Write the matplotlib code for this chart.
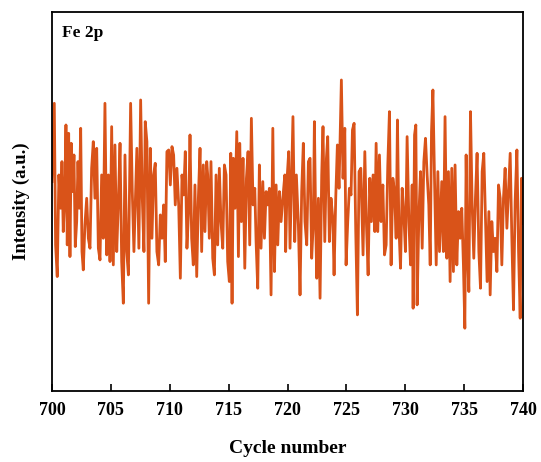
import matplotlib.pyplot as plt

# Fe 2p intensity vs cycle number
cycles = [
    700.00, 700.20, 700.31, 700.45, 700.59, 700.74, 700.85, 700.96, 701.08, 701.19,
    701.30, 701.42, 701.53, 701.64, 701.76, 701.87, 701.98, 702.10, 702.21, 702.32,
    702.44, 702.55, 702.66, 702.80, 702.95, 703.09, 703.23, 703.37, 703.51, 703.65,
    703.80, 703.94, 704.08, 704.22, 704.36, 704.50, 704.65, 704.79, 704.93, 705.07,
    705.21, 705.35, 705.50, 705.64, 705.78, 705.92, 706.06, 706.20, 706.35, 706.49,
    706.68, 706.82, 706.96, 707.07, 707.21, 707.38, 707.53, 707.67, 707.81, 707.92,
    708.06, 708.21, 708.35, 708.49, 708.63, 708.77, 708.91, 709.06, 709.20, 709.34,
    709.48, 709.62, 709.76, 709.91, 710.05, 710.19, 710.33, 710.47, 710.61, 710.76,
    710.90, 711.04, 711.18, 711.32, 711.46, 711.61, 711.72, 711.86, 712.00, 712.14,
    712.29, 712.43, 712.57, 712.71, 712.85, 712.99, 713.14,
    713.22, 713.36, 713.50, 713.65, 713.79, 713.93, 714.07, 714.21, 714.35, 714.50,
    714.64, 714.78, 714.92, 715.06, 715.18, 715.29, 715.40, 715.54, 715.69, 715.83,
    715.94, 716.08, 716.22, 716.37, 716.51, 716.65, 716.79, 716.93, 717.07, 717.22,
    717.33, 717.47, 717.61, 717.75, 717.90, 718.04, 718.18, 718.32, 718.46, 718.60,
    718.75, 718.89, 719.03, 719.17, 719.31, 719.45, 719.60, 719.77,
    719.84, 719.98, 720.10, 720.21, 720.35, 720.46, 720.61, 720.75, 720.92, 721.06,
    721.20, 721.34, 721.48, 721.63, 721.77, 721.91, 722.05, 722.19, 722.28, 722.39,
    722.48, 722.62, 722.76, 722.90, 723.01, 723.16, 723.30, 723.41, 723.55, 723.69,
    723.84, 723.95, 724.09, 724.23, 724.37, 724.57, 724.71, 724.86, 724.97, 725.11,
    725.25, 725.39, 725.51, 725.65, 725.79, 725.93, 726.07, 726.22,
    726.41, 726.56, 726.70, 726.84, 726.98, 727.12, 727.26, 727.41, 727.52, 727.66,
    727.80, 727.94, 728.09, 728.23, 728.37, 728.51, 728.65, 728.79, 728.94, 729.08,
    729.22, 729.33, 729.45, 729.59, 729.73, 729.87, 730.01, 730.15, 730.30, 730.44,
    730.58, 730.66, 730.78, 730.89, 731.00, 731.15, 731.29, 731.43, 731.57, 731.71,
    731.85, 731.99, 732.11, 732.22, 732.34, 732.48, 732.62, 732.76, 732.90, 733.04,
    733.09, 733.23, 733.37, 733.52, 733.66, 733.80, 733.94, 734.08, 734.22, 734.37,
    734.51, 734.65, 734.79, 734.93, 735.05, 735.16, 735.27, 735.39, 735.53, 735.67,
    735.81, 735.95, 736.09, 736.24, 736.38, 736.52, 736.66, 736.80, 736.94, 737.09,
    737.20, 737.34, 737.48, 737.62, 737.77, 737.91, 738.05, 738.19, 738.33, 738.47,
    738.62, 738.76, 738.90, 739.04, 739.18, 739.32, 739.47, 739.61, 739.75, 739.86,
    740.00,
]
intensity = [
    47.5, 71, 28.5, 19, 49.5, 39.5, 53.5, 32.5, 42.5, 64.5,
    28.5, 62, 25, 59, 44.5, 55.5, 28, 35.5, 53.5, 39.5,
    63.5, 26.5, 21, 34.5, 42.5, 30.5, 27.5, 51.5, 59.5, 42.5,
    57.5, 27.5, 24, 49.5, 30.5, 71, 25.5, 49.5, 23.5, 64,
    22.5, 58.5, 26.5, 41.5, 59, 23.5, 11, 55.5, 26.5, 19.5,
    71, 44.5, 26.5, 40.5, 57.5, 27.5, 72, 42.5, 26.5, 65.5,
    59.5, 11, 57.5, 30.5, 49.5, 53, 26.5, 22.5, 37.5, 30.5,
    40.5, 23.5, 56.5, 57, 46.5, 58, 55.5, 40.5, 51.5, 40.5,
    18.5, 49.5, 43.5, 56.5, 27.5, 39.5, 61.5, 30.5, 22.5, 46.5,
    19, 42.5, 57.5, 26.5, 52.5, 32.5, 53.5,
    49.5, 30.5, 53.5, 24.5, 19.5, 49.5, 28.5, 51.5, 35.5, 27.5,
    52.5, 49.5, 23.5, 17.5, 56, 11, 54.5, 39.5, 62.5, 25,
    59, 35.5, 54.5, 21.5, 48.5, 56.5, 28.5, 66.5, 40.5, 45.5,
    29.5, 15.5, 52.5, 27.5, 47.5, 30.5, 44.5, 40.5, 45.5, 13.5,
    63.5, 20.5, 46.5, 28.5, 44.5, 35.5, 42.5, 49.5,
    26.5, 49.5, 56.5, 27.5, 49.5, 67, 29.5, 49.5, 34.5, 13.5,
    44.5, 59, 35.5, 28.5, 53.5, 54.5, 24.5, 35.5, 65.5, 34.5,
    18.5, 42.5, 12.5, 49.5, 64, 29.5, 54.5, 61, 29.5, 42.5,
    36.5, 19.5, 42.5, 58.5, 45.5, 78, 48.5, 63.5, 22.5, 35.5,
    45.5, 43.5, 63, 65, 32.5, 7.5, 50.5, 51.5,
    25.5, 56.5, 34.5, 19.5, 48.5, 35.5, 49.5, 32.5, 59, 32.5,
    55.5, 35.5, 46.5, 25.5, 28.5, 52.5, 68.5, 22.5, 48.5, 44.5,
    30.5, 66, 34.5, 21.5, 45.5, 37.5, 26.5, 61, 35.5, 22.5,
    46.5, 9.5, 61.5, 64.5, 10.5, 37.5, 50.5, 27.5, 53.5, 60.5,
    49.5, 40.5, 22.5, 62.5, 75, 47.5, 22.5, 50.5, 26.5, 42.5,
    47.5, 26.5, 67, 24.5, 50.5, 17.5, 51.5, 20.5, 52.5, 22.5,
    38.5, 30.5, 39.5, 22.5, 3.5, 55.5, 26.5, 14.5, 68.5, 40.5,
    24.5, 42.5, 56, 26.5, 15.5, 50.5, 56, 36.5, 17.5, 38.5,
    13.5, 35.5, 26.5, 30.5, 20.5, 46.5, 42.5, 22.5, 42.5, 51.5,
    33.5, 44.5, 56, 30.5, 9, 41.5, 57, 26.5, 6.5, 48.5,
    35,
]
x_ticks = [700, 705, 710, 715, 720, 725, 730, 735, 740]

plt.rcParams['font.family'] = ['Liberation Serif', 'DejaVu Serif']
plt.rcParams['font.weight'] = 'bold'

fig = plt.figure(figsize=(5.41, 4.62), dpi=100)
ax = fig.add_axes([0.096, 0.154, 0.871, 0.820])

ax.plot(cycles, intensity, color='#D95319', linewidth=2.0)

ax.set_xlim(700, 740)
ax.set_ylim(-15.3, 98.4)
ax.set_xticks(x_ticks)
ax.set_yticks([])
ax.tick_params(axis='x', direction='in', length=5, width=1.2, labelsize=13, pad=8)
for lab in ax.get_xticklabels():
    lab.set_fontweight('bold')
for sp in ax.spines.values():
    sp.set_linewidth(1.3)

ax.set_xlabel('Cycle number', fontsize=14, fontweight='bold', labelpad=15)
ax.set_ylabel('Intensity (a.u.)', fontsize=13.5, fontweight='bold', labelpad=16)
ax.text(0.022, 0.965, 'Fe 2p', transform=ax.transAxes, fontsize=12.5,
        fontweight='bold', va='top', ha='left')

fig.savefig('out.png', dpi=100)
plt.close(fig)
